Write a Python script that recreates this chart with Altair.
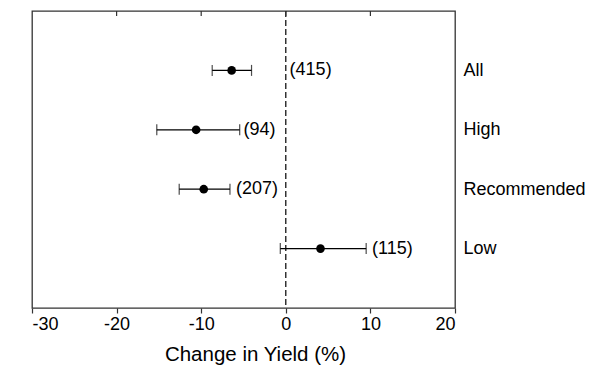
import altair as alt
import pandas as pd

categories = ["All", "High", "Recommended", "Low"]
means = [-6.4, -10.6, -9.7, 4.1]
lower = [-8.7, -15.25, -12.6, -0.65]
upper = [-4.05, -5.45, -6.6, 9.5]
counts = ["(415)", "(94)", "(207)", "(115)"]
label_x = [0.45, -5.0, -5.9, 10.2]
top_ticks = [-20, -10, 0, 10]

df = pd.DataFrame({
    "cat": categories, "mean": means, "lo": lower, "hi": upper,
    "n": counts, "lx": label_x,
})
ticks_df = pd.DataFrame({"t": top_ticks})
zero_df = pd.DataFrame({"z": [0]})

FONT = "Liberation Sans"
INK = "#333333"

xscale = alt.Scale(domain=[-30, 20], nice=False, zero=False)
yenc = alt.Y(
    "cat:N", sort=categories,
    scale=alt.Scale(type="point", padding=1),
    axis=alt.Axis(orient="right", ticks=False, domain=False, grid=False,
                  labelPadding=8, labelFontSize=18, labelFont=FONT,
                  labelColor="black", labelAlign="left", title=None),
)

base = alt.Chart(df)

bars = base.mark_rule(color="black", strokeWidth=1.2).encode(
    x=alt.X("lo:Q", scale=xscale,
            axis=alt.Axis(values=[-30, -20, -10, 0, 10, 20], tickSize=5,
                          tickColor=INK, tickWidth=1.2, domain=False, grid=False,
                          labelExpr="datum.value + ''",
                          labelFontSize=18, labelFont=FONT, labelColor="black",
                          labelPadding=2, title="Change in Yield (%)",
                          titleFontSize=20.5, titleFont=FONT, titleFontWeight="normal",
                          titleColor="black", titleX=223, titleY=52,
                          titleBaseline="alphabetic", titleAlign="center")),
    x2="hi:Q",
    y=yenc,
)
cap_lo = base.mark_tick(color="black", size=11, thickness=1.2).encode(
    x=alt.X("lo:Q", scale=xscale), y=yenc)
cap_hi = base.mark_tick(color="black", size=11, thickness=1.2).encode(
    x=alt.X("hi:Q", scale=xscale), y=yenc)
dots = base.mark_circle(color="black", size=75, opacity=1).encode(
    x=alt.X("mean:Q", scale=xscale), y=yenc)
labels = base.mark_text(align="left", baseline="middle", fontSize=18,
                        font=FONT, color="black").encode(
    x=alt.X("lx:Q", scale=xscale), y=yenc, text="n:N")

zero_line = alt.Chart(zero_df).mark_rule(color="black", strokeWidth=1.2,
                                         strokeDash=[6, 3]).encode(
    x=alt.X("z:Q", scale=xscale))
top_tick_marks = alt.Chart(ticks_df).mark_rule(color=INK, strokeWidth=1.2).encode(
    x=alt.X("t:Q", scale=xscale), y=alt.value(0), y2=alt.value(5))

chart = alt.layer(zero_line, top_tick_marks, bars, cap_lo, cap_hi, dots, labels).properties(
    width=423, height=297,
    autosize=alt.AutoSizeParams(type="none"),
    padding={"left": 32, "top": 11, "right": 145, "bottom": 57},
    background="white",
).configure_view(stroke=INK, strokeWidth=1.3)

chart.save("out.html", embed_options={"renderer": "svg", "actions": False})
